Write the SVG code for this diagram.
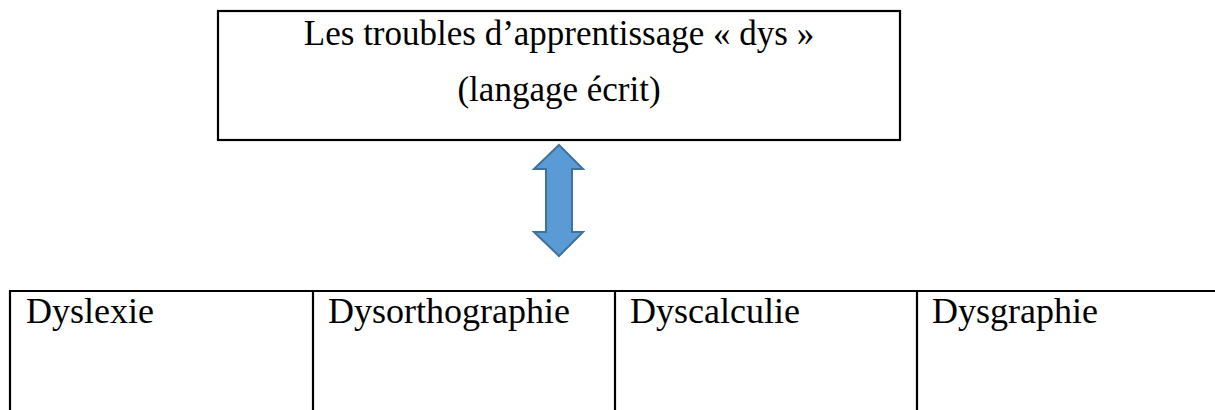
<svg xmlns="http://www.w3.org/2000/svg" width="1215" height="410" viewBox="0 0 1215 410">
  <style>
    .frame { fill: none; stroke: #000; stroke-width: 2.2; }
    .label { font-family: "Liberation Serif", "Times New Roman", serif; font-size: 36px; fill: #000; }
    .title { font-size: 35px; }
    .dblarrow { fill: #5B9BD5; stroke: #41719C; stroke-width: 2; stroke-linejoin: miter; }
  </style>
  <rect width="1215" height="410" fill="#fff"/>

  <!-- Title box -->
  <g id="node-title">
    <rect class="frame" x="218" y="11" width="682" height="129"/>
    <text class="label title" x="559" y="45" text-anchor="middle">Les troubles d’apprentissage « dys »</text>
    <text class="label title" x="559" y="101" text-anchor="middle">(langage écrit)</text>
  </g>

  <!-- Connectors -->
  <g id="connectors">
    <polygon class="dblarrow" points="559,145 583,169 572,169 572,232 583,232 559,256 534,232 546,232 546,169 534,169 559,145"/>
  </g>

  <!-- Table of the four disorders (bottom and right borders run past the edge) -->
  <g id="table-grid">
    <line class="frame" x1="9" y1="291" x2="1215" y2="291"/>
    <line class="frame" x1="10" y1="290" x2="10" y2="410"/>
    <line class="frame" x1="313" y1="290" x2="313" y2="410"/>
    <line class="frame" x1="615" y1="290" x2="615" y2="410"/>
    <line class="frame" x1="917" y1="290" x2="917" y2="410"/>
  </g>
  <g id="node-dyslexie">
    <text class="label" x="26" y="323">Dyslexie</text>
  </g>
  <g id="node-dysorthographie">
    <text class="label" x="328" y="323">Dysorthographie</text>
  </g>
  <g id="node-dyscalculie">
    <text class="label" x="630" y="323">Dyscalculie</text>
  </g>
  <g id="node-dysgraphie">
    <text class="label" x="932" y="323">Dysgraphie</text>
  </g>
</svg>
